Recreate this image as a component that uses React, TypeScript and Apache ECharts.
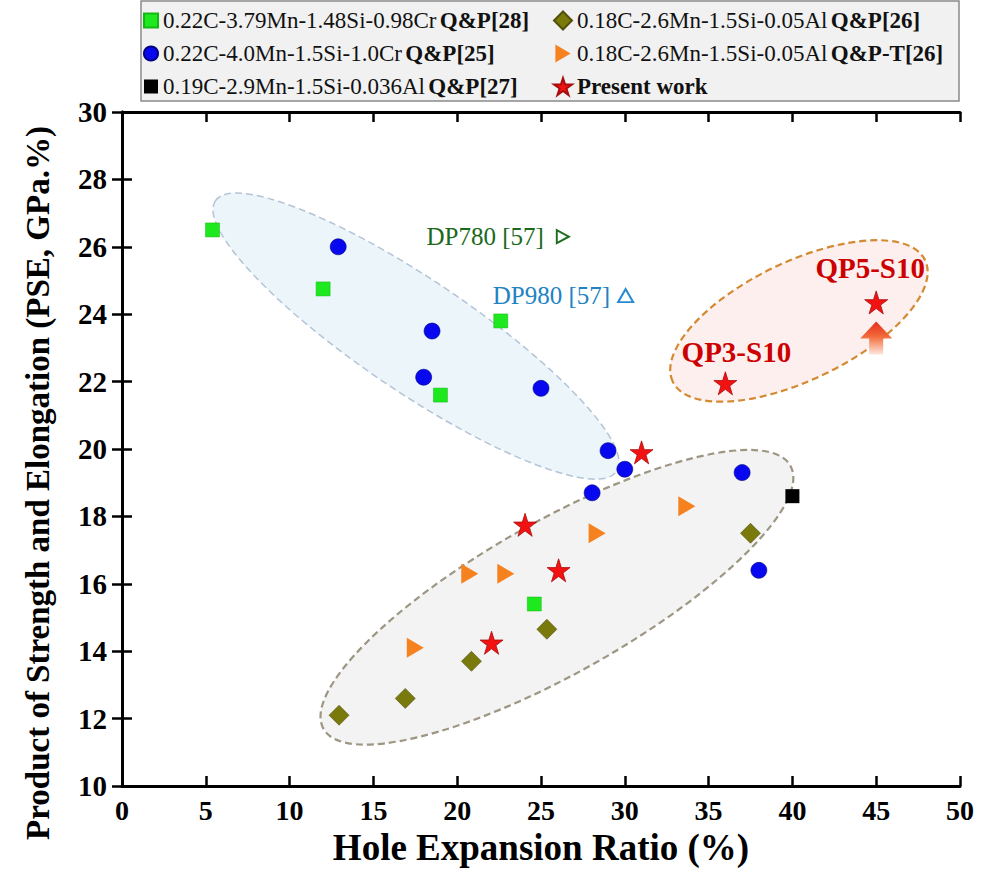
import React, { useEffect, useRef } from "react";
import * as echarts from "echarts";

const FONT = "'Liberation Serif', 'Times New Roman', serif";

// Axis ranges / ticks
const xRange = [0, 50, 5];
const yRange = [10, 30, 2];

// Series names (legend)
const nameQP28 = "0.22C-3.79Mn-1.48Si-0.98Cr Q&P[28]";
const nameQP25 = "0.22C-4.0Mn-1.5Si-1.0Cr Q&P[25]";
const nameQP27 = "0.19C-2.9Mn-1.5Si-0.036Al Q&P[27]";
const nameQP26 = "0.18C-2.6Mn-1.5Si-0.05Al Q&P[26]";
const nameQPT26 = "0.18C-2.6Mn-1.5Si-0.05Al Q&P-T[26]";
const namePresent = "Present work";

// Data [HER %, PSE GPa.%]
const qp28 = [[5.4, 26.5], [12, 24.75], [22.6, 23.8], [19, 21.6], [24.6, 15.4]];
const qp25 = [[12.9, 26.0], [18.5, 23.5], [18.0, 22.13], [25.0, 21.8], [29.0, 19.95], [30.0, 19.4], [28.05, 18.7], [37.0, 19.3], [38.0, 16.4]];
const qp27 = [[40, 18.6]];
const qp26 = [[12.95, 12.1], [16.9, 12.6], [20.85, 13.7], [25.35, 14.65], [37.5, 17.5]];
const qpt26 = [[17.5, 14.1], [20.75, 16.3], [22.9, 16.3], [28.35, 17.5], [33.7, 18.3]];
const present = [[22.05, 14.25], [24.05, 17.75], [26.05, 16.4], [31.0, 19.9], [36.0, 21.95], [45.0, 24.35]];
const presentLabels = ["", "", "", "", "QP3-S10", "QP5-S10"];
const dp780 = [[26.3, 26.3]];
const dp980 = [[30.05, 24.55]];

// Shaded zones: center in data units
const zones = [
  { center: [17.54, 23.35], rx: 242, ry: 56, angle: -34, fill: "#ebf5fa", stroke: "#b4c4d6", width: 1.5 },
  { center: [25.95, 15.6], rx: 268, ry: 76, angle: 29.4, fill: "#f3f3f3", stroke: "#9c9682", width: 2.2 },
  { center: [40.39, 23.8], rx: 140, ry: 59, angle: 25.7, fill: "#fcefee", stroke: "#d48a32", width: 2.2 },
];

const STAR = "path://M50,0L61.2,34.5L97.6,34.5L68.2,55.9L79.4,90.5L50,69.1L20.6,90.5L31.8,55.9L2.4,34.5L38.8,34.5Z";
const TRI_R = "path://M0,0L17,10L0,20Z";
const TRI_U = "path://M7,0L14,12L0,12Z";

export default function App() {
  const ref = useRef<HTMLDivElement>(null);
  useEffect(() => {
    const el = ref.current!;
    const chart = echarts.init(el, null, { renderer: "svg" });

    const legendText = {
      rich: {
        n: { fontFamily: FONT, fontSize: 23, color: "#111", lineHeight: 24 },
        b: { fontFamily: FONT, fontSize: 23, fontWeight: "bold", color: "#111", lineHeight: 24 },
      },
    };
    const legendFmt = (name: string) => {
      if (name === namePresent) return `{b|${name}}`;
      const i = name.lastIndexOf(" ");
      return `{n|${name.slice(0, i)}} {b|${name.slice(i + 1)}}`;
    };

    const axisCommon = {
      axisLine: { show: true, lineStyle: { color: "#000", width: 3 } },
      axisTick: { show: true, inside: true, length: 10, lineStyle: { color: "#000", width: 2.5 } },
      splitLine: { show: false },
    };

    const legendBase = {
      orient: "vertical",
      top: 9,
      itemGap: 10,
      textStyle: legendText,
      formatter: legendFmt,
      selectedMode: false,
      padding: 0,
      z: 10,
    };

    const option: any = {
      animation: false,
      backgroundColor: "#fff",
      grid: { left: 122, top: 112, right: 29, bottom: 107 },
      legend: [
        { ...legendBase, data: [nameQP28, nameQP25, nameQP27], left: 143, itemWidth: 14, itemHeight: 14 },
        { ...legendBase, data: [nameQP26, nameQPT26, namePresent], left: 553, itemWidth: 18, itemHeight: 18 },
      ],
      xAxis: [
        {
          type: "value",
          min: xRange[0],
          max: xRange[1],
          interval: xRange[2],
          position: "bottom",
          ...axisCommon,
          axisLabel: { color: "#000", fontFamily: FONT, fontSize: 28, fontWeight: "bold", margin: 10 },
          name: "Hole Expansion Ratio (%)",
          nameLocation: "middle",
          nameGap: 40,
          nameTextStyle: { color: "#000", fontFamily: FONT, fontSize: 37, fontWeight: "bold" },
        },
        {
          type: "value",
          min: xRange[0],
          max: xRange[1],
          interval: xRange[2],
          position: "top",
          ...axisCommon,
          axisLabel: { show: false },
        },
      ],
      yAxis: [
        {
          type: "value",
          min: yRange[0],
          max: yRange[1],
          interval: yRange[2],
          position: "left",
          ...axisCommon,
          axisLabel: { color: "#000", fontFamily: FONT, fontSize: 29, fontWeight: "bold", margin: 15 },
        },
        {
          type: "value",
          min: yRange[0],
          max: yRange[1],
          interval: yRange[2],
          position: "right",
          ...axisCommon,
          axisLabel: { show: false },
        },
      ],
      series: [
        {
          name: nameQP28, type: "scatter", data: qp28, symbol: "rect", symbolSize: 14,
          itemStyle: { color: "#1ee81e", borderColor: "#14b814", borderWidth: 0.5, opacity: 1 }, z: 5,
        },
        {
          name: nameQP25, type: "scatter", data: qp25, symbol: "circle", symbolSize: 16,
          itemStyle: { color: "#0808f0", borderColor: "#000080", borderWidth: 0.6, opacity: 1 }, z: 5,
        },
        {
          name: nameQP27, type: "scatter", data: qp27, symbol: "rect", symbolSize: 14,
          itemStyle: { color: "#000", opacity: 1 }, z: 5,
        },
        {
          name: nameQP26, type: "scatter", data: qp26, symbol: "diamond", symbolSize: [20, 20],
          itemStyle: { color: "#7a7a0c", borderColor: "#50500a", borderWidth: 0.6, opacity: 1 }, z: 5,
        },
        {
          name: nameQPT26, type: "scatter", data: qpt26, symbol: TRI_R, symbolSize: [17, 20],
          itemStyle: { color: "#f5821f", opacity: 1 }, z: 5,
        },
        {
          name: namePresent, type: "scatter", symbol: STAR, symbolSize: 23,
          data: present.map((p, i) => {
            const lbl = presentLabels[i];
            if (!lbl) return p;
            return {
              value: p,
              label: {
                show: true,
                formatter: lbl,
                position: "inside",
                offset: i === 4 ? [11, -31] : [-6, -34],
                color: "#cc0000",
                fontFamily: FONT,
                fontSize: 29,
                fontWeight: "bold",
              },
            };
          }),
          itemStyle: { color: "#f21212", borderColor: "#a80c0c", borderWidth: 0.8, opacity: 1 }, z: 6,
        },
        {
          name: "DP780 [57]", type: "scatter", data: dp780, symbol: TRI_R, symbolSize: [12, 13],
          itemStyle: { color: "rgba(0,0,0,0)", borderColor: "#1d6e1d", borderWidth: 2, opacity: 1 },
          label: { show: true, formatter: "DP780 [57]", position: "left", distance: 12, color: "#1b691b", fontFamily: FONT, fontSize: 25 },
          z: 5,
        },
        {
          name: "DP980 [57]", type: "scatter", data: dp980, symbol: TRI_U, symbolSize: [15, 13],
          itemStyle: { color: "rgba(0,0,0,0)", borderColor: "#2a8ad0", borderWidth: 2, opacity: 1 },
          label: { show: true, formatter: "DP980 [57]", position: "left", distance: 7, color: "#2182c4", fontFamily: FONT, fontSize: 25 },
          z: 5,
        },
      ],
    };
    chart.setOption(option);

    const toPx = (p: number[]) => chart.convertToPixel({ gridIndex: 0 }, p) as number[];
    const graphics: any[] = [];
    graphics.push({
      type: "rect",
      shape: { x: 141, y: 1, width: 818, height: 100 },
      style: { fill: "#f1f1f1", stroke: "#8a8a8a", lineWidth: 1.5 },
      z: 0,
    });
    zones.forEach((zn) => {
      const c = toPx(zn.center);
      graphics.push({
        type: "ellipse",
        x: c[0],
        y: c[1],
        rotation: (zn.angle * Math.PI) / 180,
        shape: { cx: 0, cy: 0, rx: zn.rx, ry: zn.ry },
        style: { fill: zn.fill, stroke: zn.stroke, lineWidth: zn.width, lineDash: [7, 4] },
        z: 1,
      });
    });
    const a = toPx(present[5]);
    graphics.push({
      type: "polygon",
      x: a[0],
      y: a[1],
      shape: { points: [[0, 19], [16, 36], [7, 36], [7, 52], [-7, 52], [-7, 36], [-16, 36]] },
      style: {
        fill: new echarts.graphic.LinearGradient(0, 0, 0, 1, [
          { offset: 0, color: "#e62a1c" },
          { offset: 0.45, color: "#f26a38" },
          { offset: 1, color: "#fde6dc" },
        ]),
      },
      z: 4,
    });
    graphics.push({
      type: "text",
      x: 38,
      y: 483,
      rotation: Math.PI / 2,
      style: {
        text: "Product of Strength and Elongation (PSE, GPa.%)",
        fontFamily: FONT,
        fontSize: 33,
        fontWeight: "bold",
        fill: "#000",
        align: "center",
        verticalAlign: "middle",
      },
      z: 5,
    });
    chart.setOption({ graphic: graphics });

    return () => chart.dispose();
  }, []);
  return <div ref={ref} style={{ position: "absolute", left: 0, top: 0, width: 989, height: 893 }} />;
}
